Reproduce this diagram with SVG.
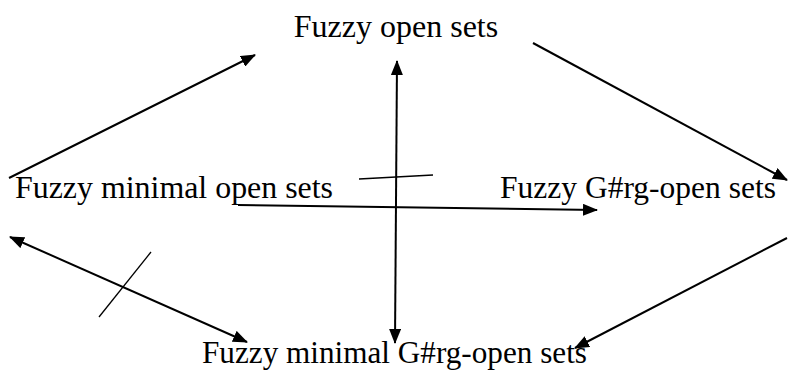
<svg xmlns="http://www.w3.org/2000/svg" width="788" height="370" viewBox="0 0 788 370">
  <style>
    .label { font-family: "Liberation Serif", "Times New Roman", serif; font-size: 32px; fill: #000; }
    .conn { stroke: #000; stroke-width: 2; fill: none; }
    .tick { stroke: #000; stroke-width: 1.3; fill: none; }
  </style>
  <defs>
    <marker id="head" viewBox="0 0 15 12" refX="14" refY="6" markerWidth="15" markerHeight="12" markerUnits="userSpaceOnUse" orient="auto-start-reverse">
      <path d="M0,0 L15,6 L0,12 Z" fill="#000"/>
    </marker>
  </defs>
  <rect width="788" height="370" fill="#fff"/>

  <g id="connectors">
    <line class="conn" x1="9" y1="178" x2="255" y2="55" marker-end="url(#head)"/>
    <line class="conn" x1="533" y1="43" x2="787" y2="180" marker-end="url(#head)"/>
    <line class="conn" x1="787" y1="238" x2="575" y2="348" marker-end="url(#head)"/>
    <line class="conn" x1="10" y1="237" x2="247" y2="342" marker-start="url(#head)" marker-end="url(#head)"/>
    <line class="conn" x1="397" y1="61" x2="395" y2="343" marker-start="url(#head)" marker-end="url(#head)"/>
    <line class="conn" x1="238" y1="205" x2="597" y2="210" marker-end="url(#head)"/>
    <line class="tick" x1="151" y1="252" x2="99" y2="317"/>
    <line class="tick" x1="359" y1="179" x2="433" y2="175"/>
  </g>

  <g id="fuzzy-open">
    <text class="label" x="396" y="37" text-anchor="middle">Fuzzy open sets</text>
  </g>
  <g id="fuzzy-minimal-open">
    <text class="label" x="15" y="198" textLength="318" lengthAdjust="spacingAndGlyphs">Fuzzy minimal open sets</text>
  </g>
  <g id="fuzzy-grg-open">
    <text class="label" x="500" y="198" textLength="276" lengthAdjust="spacingAndGlyphs">Fuzzy G#rg-open sets</text>
  </g>
  <g id="fuzzy-minimal-grg-open">
    <text class="label" x="202" y="363" textLength="385" lengthAdjust="spacingAndGlyphs">Fuzzy minimal G#rg-open sets</text>
  </g>
</svg>
